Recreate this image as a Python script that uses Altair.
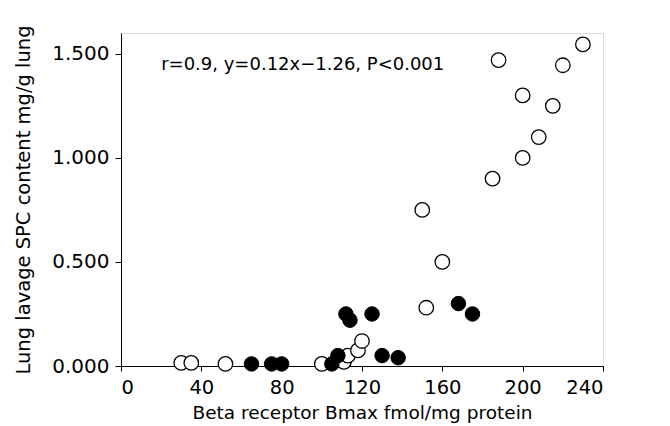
import altair as alt
import pandas as pd

open_x = [30, 35, 52, 100, 111, 113, 118, 120, 150, 152, 160, 185, 188, 200, 200, 208, 215, 220, 230]
open_y = [0.015, 0.015, 0.01, 0.01, 0.02, 0.05, 0.075, 0.12, 0.75, 0.28, 0.5, 0.9, 1.47, 1.0, 1.3, 1.1, 1.25, 1.445, 1.545]
filled_x = [65, 75, 80, 105, 108, 112, 114, 125, 130, 138, 168, 175]
filled_y = [0.01, 0.01, 0.01, 0.01, 0.05, 0.25, 0.22, 0.25, 0.05, 0.04, 0.3, 0.25]
x_ticks = [0, 40, 80, 120, 160, 200, 240]
y_ticks = [0.0, 0.5, 1.0, 1.5]
annotation = "r=0.9, y=0.12x\u22121.26, P<0.001"

df_open = pd.DataFrame({"x": open_x, "y": open_y})
df_filled = pd.DataFrame({"x": filled_x, "y": filled_y})
df_text = pd.DataFrame({"x": [20], "y": [1.445], "t": [annotation]})

FONT = "DejaVu Sans"

xs = alt.Scale(domain=[0, 240], nice=False, zero=False)
ys = alt.Scale(domain=[0, 1.6], nice=False)

xenc = alt.X("x:Q", scale=xs, title="Beta receptor Bmax fmol/mg protein",
             axis=alt.Axis(values=x_ticks, grid=False, tickSize=5, labelFontSize=19.5,
                           titleFontSize=18.5, labelFont=FONT, titleFont=FONT,
                           titleFontWeight="normal", labelColor="black", titleColor="black",
                           domainColor="black", tickColor="black", labelPadding=7, titlePadding=7))
yenc = alt.Y("y:Q", scale=ys, title="Lung lavage SPC content mg/g lung",
             axis=alt.Axis(values=y_ticks, format=".3f", grid=False, tickSize=6, labelFontSize=20,
                           titleFontSize=19.5, labelFont=FONT, titleFont=FONT,
                           titleFontWeight="normal", labelColor="black", titleColor="black",
                           domainColor="black", tickColor="black", labelPadding=6, titlePadding=18))

opens = alt.Chart(df_open).mark_point(shape="circle", size=210, filled=True, fill="white",
                                       stroke="black", strokeWidth=1.3, opacity=1).encode(x=xenc, y=yenc)
fills = alt.Chart(df_filled).mark_point(shape="circle", size=210, filled=True, fill="black",
                                         stroke="black", strokeWidth=1, opacity=1).encode(x=xenc, y=yenc)
text = alt.Chart(df_text).mark_text(align="left", baseline="middle", font=FONT, fontSize=18,
                                     color="black").encode(x=alt.X("x:Q", scale=xs), y=alt.Y("y:Q", scale=ys), text="t:N")

chart = alt.layer(opens, fills, text).properties(
    width=482, height=333,
    autosize=alt.AutoSizeParams(type="none"),
    padding={"left": 113, "top": 25, "right": 50, "bottom": 60},
).configure_view(stroke="black", strokeWidth=1.2).configure(background="white")

chart.save("out.html", embed_options={"renderer": "svg", "actions": False})
